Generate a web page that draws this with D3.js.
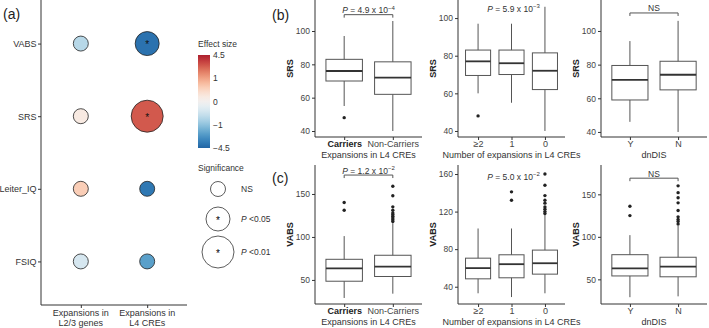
<!DOCTYPE html>
<html>
<head>
<meta charset="utf-8">
<script src="https://cdn.jsdelivr.net/npm/d3@7"></script>
<style>
  body { margin: 0; background: #fff; }
  text { font-family: "Liberation Sans", Arial, sans-serif; }
</style>
</head>
<body>
<script>
// ---- panel (a) data ----
var traits = ["VABS", "SRS", "Leiter_IQ", "FSIQ"];
var dotGroups = ["Expansions in|L2/3 genes", "Expansions in|L4 CREs"];
var effectL23 = [-0.7, 0.2, 0.6, -0.4];
var effectL4 = [-4.0, 2.9, -3.8, -2.3];
var sigL23 = ["NS", "NS", "NS", "NS"];
var sigL4 = ["P <0.05", "P <0.01", "NS", "NS"];
var sigLevels = ["NS", "P <0.05", "P <0.01"];
var effectTicks = [-4.5, -1, 0, 1, 4.5];

// ---- box plot data: [lower whisker, Q1, median, Q3, upper whisker] ----
var carrierCats = ["Carriers", "Non-Carriers"];
var countCats = ["\u22652", "1", "0"];
var dndisCats = ["Y", "N"];

var srsByCarrier = [[55, 70, 76, 83, 97], [40, 62, 72, 81.5, 106]];
var srsByCarrierOut = [[48], []];
var srsByCount = [[60, 69.5, 77, 83, 97], [55, 70, 76, 83, 97], [40, 62, 72, 81.5, 106]];
var srsByCountOut = [[48], [], []];
var srsByDndis = [[46, 59, 71, 79.5, 94], [40, 65, 74, 82, 106]];
var srsByDndisOut = [[], []];

var vabsByCarrier = [[29, 48.5, 63.5, 74, 101], [34, 54, 65.5, 78.7, 116]];
var vabsByCarrierOut = [[131, 140], [118, 120, 122, 124, 126, 128, 131, 135, 148, 159]];
var vabsByCount = [[33, 48.4, 59.8, 70.4, 102], [29, 49.5, 64, 74, 102], [33, 53.4, 65, 79, 116.5]];
var vabsByCountOut = [[], [132, 141], [118, 120, 122.5, 125, 129, 132, 137, 148, 160]];
var vabsByDndis = [[29, 54, 63, 79, 102], [30, 53, 65, 76, 113]];
var vabsByDndisOut = [[125, 136], [115, 118, 120.5, 123.5, 131, 140, 146, 152, 160]];

var W = 709, H = 328;
var svg = d3.select("body").append("svg")
  .attr("width", W)
  .attr("height", H);

function drawDotPanel() {
  var left = 41, right = 187, top = 0, bottom = 305;
  var x = d3.scalePoint().domain(dotGroups).range([left, right]).padding(0.6);
  var y = d3.scalePoint().domain(traits).range([top, bottom]).padding(0.6);
  // colour bar uses evenly spaced breaks
  var pos = d3.scaleLinear().domain(effectTicks).range([0, 0.25, 0.5, 0.75, 1]).clamp(true);
  var fill = function(v) { return d3.interpolateRdBu(0.9 - 0.8 * pos(v)); };
  var r = d3.scaleOrdinal().domain(sigLevels).range([7.5, 12, 16]);

  var cells = [];
  traits.forEach(function(t, i) {
    cells.push({ trait: t, group: dotGroups[0], effect: effectL23[i], sig: sigL23[i] });
    cells.push({ trait: t, group: dotGroups[1], effect: effectL4[i], sig: sigL4[i] });
  });

  svg.selectAll("circle.dot")
    .data(cells)
    .enter()
    .append("circle")
    .attr("class", "dot")
    .attr("cx", function(d) { return x(d.group); })
    .attr("cy", function(d) { return y(d.trait); })
    .attr("r", function(d) { return r(d.sig); })
    .attr("fill", function(d) { return fill(d.effect); })
    .attr("stroke", "#222")
    .attr("stroke-width", 0.8);

  svg.selectAll("text.star")
    .data(cells.filter(function(d) { return d.sig != "NS"; }))
    .enter()
    .append("text")
    .attr("class", "star")
    .attr("x", function(d) { return x(d.group); })
    .attr("y", function(d) { return y(d.trait) + 4.5; })
    .attr("text-anchor", "middle")
    .attr("font-size", "10px")
    .attr("fill", "#111")
    .text("*");

  // axes
  var yAxis = svg.append("g")
    .attr("transform", "translate(" + left + ",0)")
    .call(d3.axisLeft(y).tickSize(3).tickPadding(1.5).tickSizeOuter(0));
  yAxis.select(".domain").attr("d", "M0," + top + "V" + bottom).attr("stroke", "#333");
  yAxis.selectAll(".tick line").attr("stroke", "#333");
  yAxis.selectAll(".tick text").attr("font-size", "9px").attr("fill", "#333")
    .style("font-family", "Liberation Sans, Arial, sans-serif");

  var xAxis = svg.append("g")
    .attr("transform", "translate(0," + bottom + ")")
    .call(d3.axisBottom(x).tickSize(3).tickFormat(""));
  xAxis.select(".domain").attr("d", "M" + left + ",0H" + right).attr("stroke", "#333");
  xAxis.selectAll(".tick line").attr("stroke", "#333");
  svg.selectAll("text.xlab")
    .data(dotGroups)
    .enter()
    .append("text")
    .attr("class", "xlab")
    .attr("text-anchor", "middle")
    .attr("font-size", "9px")
    .attr("fill", "#333")
    .each(function(d) {
      var parts = d.split("|");
      var t = d3.select(this);
      parts.forEach(function(p, i) {
        t.append("tspan").attr("x", x(d)).attr("y", bottom + 11 + i * 9.5).text(p);
      });
    });

  // colour legend
  var lx = 198, ly = 55, lw = 12, lh = 93;
  svg.append("text").attr("x", lx).attr("y", ly - 8)
    .attr("font-size", "8.5px").attr("fill", "#333").text("Effect size");
  var grad = svg.append("defs").append("linearGradient")
    .attr("id", "effgrad").attr("x1", 0).attr("y1", 1).attr("x2", 0).attr("y2", 0);
  d3.range(0, 1.0001, 0.05).forEach(function(t) {
    grad.append("stop").attr("offset", t).attr("stop-color", d3.interpolateRdBu(0.9 - 0.8 * t));
  });
  svg.append("rect").attr("x", lx).attr("y", ly).attr("width", lw).attr("height", lh)
    .attr("fill", "url(#effgrad)");
  var barY = d3.scaleLinear().domain([0, 1]).range([ly + lh, ly]);
  svg.selectAll("text.efftick")
    .data(effectTicks)
    .enter()
    .append("text")
    .attr("class", "efftick")
    .attr("x", lx + lw + 3)
    .attr("y", function(d) { return barY(pos(d)) + 3; })
    .attr("font-size", "8.5px")
    .attr("fill", "#333")
    .text(function(d) { return d < 0 ? "\u2212" + Math.abs(d) : d; });

  // significance legend
  svg.append("text").attr("x", lx).attr("y", 171)
    .attr("font-size", "8.5px").attr("fill", "#333").text("Significance");
  var leg = svg.selectAll("g.sigleg")
    .data(sigLevels)
    .enter()
    .append("g")
    .attr("class", "sigleg")
    .attr("transform", function(d, i) { return "translate(218," + [189, 219, 252][i] + ")"; });
  leg.append("circle").attr("r", function(d) { return r(d); })
    .attr("fill", "white").attr("stroke", "#333").attr("stroke-width", 0.8);
  leg.filter(function(d) { return d != "NS"; }).append("text")
    .attr("y", 4.5).attr("text-anchor", "middle").attr("font-size", "10px").text("*");
  leg.append("text")
    .attr("x", 23).attr("y", 3)
    .attr("font-size", "8.5px").attr("fill", "#333")
    .each(function(d) {
      var t = d3.select(this);
      if (d == "NS") { t.text("NS"); return; }
      t.append("tspan").attr("font-style", "italic").text("P");
      t.append("tspan").text(" " + d.slice(2));
    });
}

function pLabel(sel, label) {
  // label like "4.9|-4" -> P = 4.9 x 10^-4
  if (label == "NS") { sel.text("NS"); return; }
  var parts = label.split("|");
  sel.append("tspan").attr("font-style", "italic").text("P");
  sel.append("tspan").text(" = " + parts[0] + " x 10");
  sel.append("tspan").attr("font-size", "6px").attr("dy", "-3.5").text(parts[1].replace("-", "\u2212"));
}

function drawBoxPanel(cfg) {
  var x = d3.scalePoint().domain(cfg.cats).range([cfg.left, cfg.right]).padding(0.6);
  var y = d3.scaleLinear().domain(cfg.domain).range([cfg.bottom, cfg.top]);
  var bw = x.step() * 0.75;
  var rows = cfg.cats.map(function(c, i) {
    return { cat: c, s: cfg.stats[i], out: cfg.out[i] };
  });
  var g = svg.append("g");
  var box = g.selectAll("g.box")
    .data(rows)
    .enter()
    .append("g")
    .attr("class", "box");
  box.append("line")
    .attr("x1", function(d) { return x(d.cat); })
    .attr("x2", function(d) { return x(d.cat); })
    .attr("y1", function(d) { return y(d.s[0]); })
    .attr("y2", function(d) { return y(d.s[4]); })
    .attr("stroke", "#555");
  box.append("rect")
    .attr("x", function(d) { return x(d.cat) - bw / 2; })
    .attr("y", function(d) { return y(d.s[3]); })
    .attr("width", bw)
    .attr("height", function(d) { return y(d.s[1]) - y(d.s[3]); })
    .attr("fill", "white")
    .attr("stroke", "#555");
  box.append("line")
    .attr("x1", function(d) { return x(d.cat) - bw / 2; })
    .attr("x2", function(d) { return x(d.cat) + bw / 2; })
    .attr("y1", function(d) { return y(d.s[2]); })
    .attr("y2", function(d) { return y(d.s[2]); })
    .attr("stroke", "#333")
    .attr("stroke-width", 1.8);
  box.selectAll("circle")
    .data(function(d) { return d.out.map(function(v) { return { cat: d.cat, v: v }; }); })
    .enter()
    .append("circle")
    .attr("cx", function(d) { return x(d.cat); })
    .attr("cy", function(d) { return y(d.v); })
    .attr("r", 1.7)
    .attr("fill", "#222");

  // axes
  var yAxis = g.append("g")
    .attr("transform", "translate(" + cfg.left + ",0)")
    .call(d3.axisLeft(y).tickValues(cfg.ticks).tickSize(3).tickPadding(2).tickSizeOuter(0));
  yAxis.select(".domain").attr("d", "M0," + cfg.top + "V" + cfg.bottom).attr("stroke", "#333");
  yAxis.selectAll(".tick line").attr("stroke", "#333");
  yAxis.selectAll(".tick text").attr("font-size", "8.5px").attr("fill", "#444")
    .style("font-family", "Liberation Sans, Arial, sans-serif");

  var xAxis = g.append("g")
    .attr("transform", "translate(0," + cfg.bottom + ")")
    .call(d3.axisBottom(x).tickSize(3).tickPadding(1).tickSizeOuter(0));
  xAxis.select(".domain").attr("d", "M" + cfg.left + ",0H" + cfg.right).attr("stroke", "#333");
  xAxis.selectAll(".tick line").attr("stroke", "#333");
  xAxis.selectAll(".tick text").attr("font-size", "9px").attr("dy", "0.62em")
    .style("font-family", "Liberation Sans, Arial, sans-serif")
    .attr("font-weight", function(d) { return d == "Carriers" ? "bold" : null; })
    .attr("fill", function(d) { return d == "Carriers" ? "#222" : "#444"; });

  g.append("text")
    .attr("x", (cfg.left + cfg.right) / 2)
    .attr("y", cfg.bottom + 20.5)
    .attr("text-anchor", "middle")
    .attr("font-size", "9px")
    .attr("fill", "#333")
    .text(cfg.xTitle);
  g.append("text")
    .attr("transform", "translate(" + (cfg.left - 22) + "," + ((cfg.top + cfg.bottom) / 2) + ") rotate(-90)")
    .attr("text-anchor", "middle")
    .attr("font-size", "9px")
    .attr("font-weight", "bold")
    .attr("fill", "#222")
    .text(cfg.yTitle);

  // significance annotation
  var a = cfg.ann;
  if (a.bracket) {
    var x1 = x(cfg.cats[0]), x2 = x(cfg.cats[cfg.cats.length - 1]), yy = y(a.y);
    g.append("path")
      .attr("d", "M" + x1 + "," + (yy + 3) + "V" + yy + "H" + x2 + "V" + (yy + 3))
      .attr("fill", "none").attr("stroke", "#555");
    g.append("text")
      .attr("x", (x1 + x2) / 2).attr("y", yy - 1.5)
      .attr("text-anchor", "middle").attr("font-size", "8.5px").attr("fill", "#333")
      .call(pLabel, a.label);
  } else {
    g.append("text")
      .attr("x", (cfg.left + cfg.right) / 2 + 2).attr("y", y(a.y))
      .attr("text-anchor", "middle").attr("font-size", "8.5px").attr("fill", "#333")
      .call(pLabel, a.label);
  }
}

function main() {
  drawDotPanel();

  var topB = 0, botB = 137, topC = 165, botC = 304;
  drawBoxPanel({ cats: carrierCats, stats: srsByCarrier, out: srsByCarrierOut,
    left: 315, right: 422, top: topB, bottom: botB, domain: [36.4, 118.6], ticks: [40, 60, 80, 100],
    xTitle: "Expansions in L4 CREs", yTitle: "SRS", ann: { bracket: true, y: 109.8, label: "4.9|-4" } });
  drawBoxPanel({ cats: countCats, stats: srsByCount, out: srsByCountOut,
    left: 458, right: 565, top: topB, bottom: botB, domain: [36.8, 109.6], ticks: [40, 60, 80, 100],
    xTitle: "Number of expansions in L4 CREs", yTitle: "SRS", ann: { bracket: false, y: 103.4, label: "5.9|-3" } });
  drawBoxPanel({ cats: dndisCats, stats: srsByDndis, out: srsByDndisOut,
    left: 601, right: 707, top: topB, bottom: botB, domain: [37, 118.4], ticks: [40, 60, 80, 100],
    xTitle: "dnDIS", yTitle: "SRS", ann: { bracket: true, y: 110.7, label: "NS" } });

  drawBoxPanel({ cats: carrierCats, stats: vabsByCarrier, out: vabsByCarrierOut,
    left: 315, right: 422, top: topC, bottom: botC, domain: [22, 183.7], ticks: [50, 100, 150],
    xTitle: "Expansions in L4 CREs", yTitle: "VABS", ann: { bracket: true, y: 172, label: "1.2|-2" } });
  drawBoxPanel({ cats: countCats, stats: vabsByCount, out: vabsByCountOut,
    left: 458, right: 565, top: topC, bottom: botC, domain: [21.6, 169.6], ticks: [40, 80, 120, 160],
    xTitle: "Number of expansions in L4 CREs", yTitle: "VABS", ann: { bracket: false, y: 153.7, label: "5.0|-2" } });
  drawBoxPanel({ cats: dndisCats, stats: vabsByDndis, out: vabsByDndisOut,
    left: 601, right: 707, top: topC, bottom: botC, domain: [21, 184.5], ticks: [50, 100, 150],
    xTitle: "dnDIS", yTitle: "VABS", ann: { bracket: true, y: 169, label: "NS" } });

  // panel tags
  [["(a)", 3, 19], ["(b)", 272, 20], ["(c)", 272, 183]].forEach(function(p) {
    svg.append("text").attr("x", p[1]).attr("y", p[2])
      .attr("font-size", "14px").attr("fill", "#222").text(p[0]);
  });
}

window.onload = function() {
  main();
};
</script>
</body>
</html>
